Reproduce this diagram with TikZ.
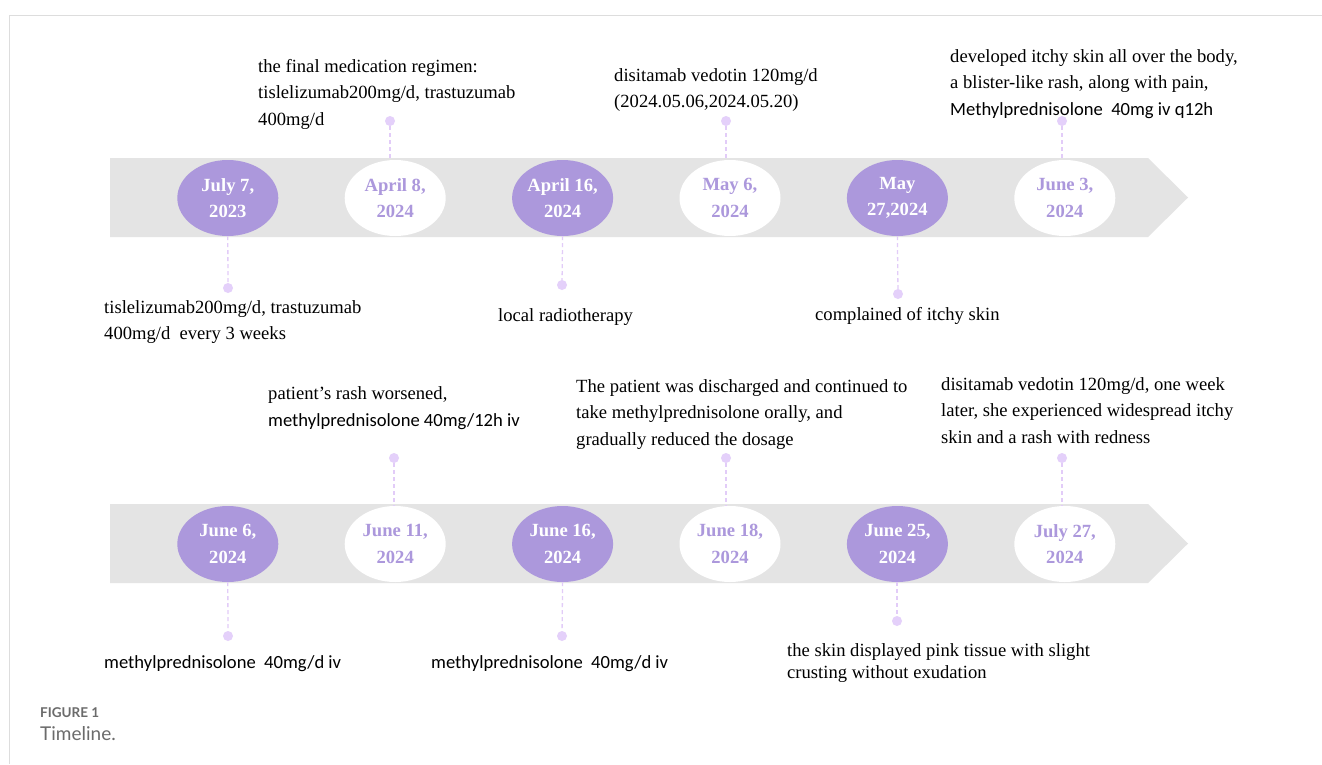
\documentclass[tikz,border=0pt]{standalone}
\usepackage{fontspec}
\setmainfont{Liberation Serif}
\newfontfamily\calib{Carlito}
\newfontfamily\capfont{Lato}
\usetikzlibrary{shapes.geometric}
\definecolor{bandgray}{HTML}{E4E4E4}
\definecolor{evpurple}{HTML}{AC98DC}
\definecolor{dotc}{HTML}{E4D0FA}
\definecolor{connc}{HTML}{E2CCF8}
\definecolor{framegray}{HTML}{DDDDDD}
\definecolor{capgray}{HTML}{6B6B6B}
\tikzset{
  band/.style={fill=bandgray, draw=none},
  evp/.style={ellipse, fill=evpurple, draw=none, minimum width=101pt, minimum height=76pt, inner sep=0pt, text=white, align=center, font=\bfseries\fontsize{18.6}{26.5}\selectfont},
  evw/.style={evp, fill=white, text=evpurple},
  dotn/.style={circle, fill=dotc, draw=none, minimum size=10pt, inner sep=0pt},
  conn/.style={draw=connc, dash pattern=on 4pt off 3pt, line width=1.3pt},
  lbl/.style={anchor=base west, inner sep=0pt, align=left, text=black, font=\fontsize{18.6}{26.5}\selectfont},
}
\begin{document}
\begin{tikzpicture}[x=1pt,y=-1pt]
\useasboundingbox (0,0) rectangle (1322,764);
\fill[white] (0,0) rectangle (1322,764);
% frame
\draw[framegray, line width=1.2pt] (9.5,764) -- (9.5,15.5) -- (1322,15.5);
% bands
\fill[band] (110,158) -- (1148,158) -- (1188,197.5) -- (1148,237) -- (110,237) -- cycle;
\fill[band] (110,504) -- (1148,504) -- (1188,543.5) -- (1148,583) -- (110,583) -- cycle;
% row 1 events
\node[evp] (e1) at (227.8,198) {July 7,\\2023};
\node[evw] (e2) at (395.2,198) {April 8,\\2024};
\node[evp] (e3) at (562.6,198) {April 16,\\2024};
\node[evw] (e4) at (730,198) {May 6,\\2024};
\node[evp] (e5) at (897.4,198) {May\\27,2024};
\node[evw] (e6) at (1064.8,198) {June 3,\\2024};
% row 2 events
\node[evp] (e7) at (227.8,544) {June 6,\\2024};
\node[evw] (e8) at (395.2,544) {June 11,\\2024};
\node[evp] (e9) at (562.6,544) {June 16,\\2024};
\node[evw] (e10) at (730,544) {June 18,\\2024};
\node[evp] (e11) at (897.4,544) {June 25,\\2024};
\node[evw] (e12) at (1064.8,544) {July 27,\\2024};
% dots
\node[dotn] (d1) at (228,288) {};
\node[dotn] (d2) at (390,121) {};
\node[dotn] (d3) at (562,285) {};
\node[dotn] (d4) at (726,121) {};
\node[dotn] (d5) at (898,294) {};
\node[dotn] (d6) at (1062,121) {};
\node[dotn] (d7) at (228,636) {};
\node[dotn] (d8) at (394,458) {};
\node[dotn] (d9) at (562,636) {};
\node[dotn] (d10) at (726,458) {};
\node[dotn] (d11) at (897,621) {};
\node[dotn] (d12) at (1062,458) {};
% connectors
\draw[conn] (e1.south) -- (d1);
\draw[conn] (d2) -- (d2 |- e2.north);
\draw[conn] (e3.south) -- (d3);
\draw[conn] (d4) -- (d4 |- e4.north);
\draw[conn] (e5.south) -- (d5);
\draw[conn] (d6) -- (d6 |- e6.north);
\draw[conn] (e7.south) -- (d7);
\draw[conn] (d8) -- (d8 |- e8.north);
\draw[conn] (e9.south) -- (d9);
\draw[conn] (d10) -- (d10 |- e10.north);
\draw[conn] (d11 |- e11.south) -- (d11);
\draw[conn] (d12) -- (d12 |- e12.north);
% labels row 1 (base = baseline of last line)
\node[lbl] (t1) at (104,339.5) {tislelizumab200mg/d, trastuzumab\\400mg/d~ every 3 weeks};
\node[lbl] (t2) at (258,125) {the final medication regimen:\\tislelizumab200mg/d, trastuzumab\\400mg/d};
\node[lbl] (t3) at (498,321) {local radiotherapy};
\node[lbl] (t4) at (614,107.5) {disitamab vedotin 120mg/d\\(2024.05.06,2024.05.20)};
\node[lbl] (t5) at (815,320) {complained of itchy skin};
\node[lbl] (t6) at (950,115) {developed itchy skin all over the body,\\a blister-like rash, along with pain,\\{\calib Methylprednisolone~ 40mg iv q12h}};
% labels row 2
\node[lbl] (t7) at (104,668) {\calib methylprednisolone~ 40mg/d iv};
\node[lbl] (t8) at (268,426) {patient’s rash worsened,\\{\calib methylprednisolone 40mg/12h iv}};
\node[lbl] (t9) at (431,668) {\calib methylprednisolone~ 40mg/d iv};
\node[lbl] (t10) at (576,445) {The patient was discharged and continued to\\take methylprednisolone orally, and\\gradually reduced the dosage};
\node[lbl, font=\fontsize{18.6}{22}\selectfont] (t11) at (787,678) {the skin displayed pink tissue with slight\\crusting without exudation};
\node[lbl] (t12) at (941,443) {disitamab vedotin 120mg/d, one week\\later, she experienced widespread itchy\\skin and a rash with redness};
% caption
\node[anchor=base west, inner sep=0pt, text=capgray, font=\capfont\bfseries\fontsize{13.5}{16}\selectfont] (cap1) at (40,717) {FIGURE 1};
\node[anchor=base west, inner sep=0pt, text=capgray, font=\capfont\fontsize{19}{22}\selectfont] (cap2) at (40,740.5) {Timeline.};
\end{tikzpicture}
\end{document}
